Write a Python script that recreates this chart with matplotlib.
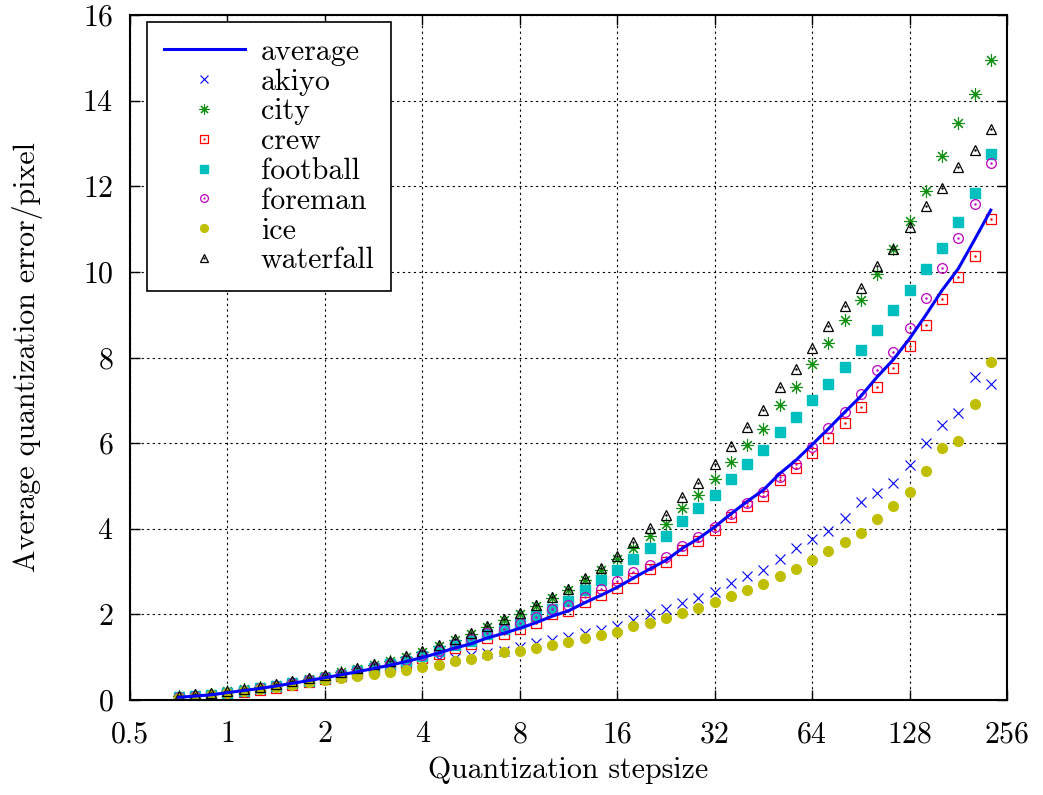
import numpy as np
import matplotlib
matplotlib.use('Agg')
import matplotlib.pyplot as plt
from matplotlib.legend_handler import HandlerTuple

plt.rcParams['font.family'] = 'serif'
plt.rcParams['font.serif'] = ['cmr10']
plt.rcParams['mathtext.fontset'] = 'cm'
plt.rcParams['axes.formatter.use_mathtext'] = True
plt.rcParams['font.size'] = 21.5

# quantization step sizes (QP 1..51)
stepsize = [0.707, 0.794, 0.891, 1.0, 1.122, 1.26,
            1.414, 1.587, 1.782, 2.0, 2.245, 2.52,
            2.828, 3.175, 3.564, 4.0, 4.49, 5.04,
            5.657, 6.35, 7.127, 8.0, 8.98, 10.079,
            11.314, 12.699, 14.254, 16.0, 17.959, 20.159,
            22.627, 25.398, 28.509, 32.0, 35.919, 40.317,
            45.255, 50.797, 57.018, 64.0, 71.838, 80.635,
            90.51, 101.594, 114.035, 128.0, 143.675, 161.27,
            181.019, 203.187, 228.07]

akiyo = [0.05, 0.08, 0.11, 0.16, 0.21, 0.26, 0.31, 0.37, 0.43, 0.50, 0.56, 0.62, 0.69, 0.76, 0.83, 0.90,
         0.95, 0.97, 1.04, 1.09, 1.14, 1.23, 1.32, 1.39, 1.47, 1.56, 1.64, 1.74,
         1.88, 2.00, 2.12, 2.26, 2.38, 2.53, 2.74, 2.90, 3.04, 3.29, 3.54,
         3.75, 3.95, 4.26, 4.62, 4.83, 5.08, 5.49, 6.00, 6.42, 6.71, 7.55, 7.39]
city = [0.09, 0.12, 0.15, 0.20, 0.25, 0.30, 0.36, 0.43, 0.50, 0.57, 0.65, 0.73, 0.82, 0.91, 1.01, 1.12,
        1.27, 1.41, 1.54, 1.71, 1.87, 2.02, 2.19, 2.38, 2.56, 2.80, 3.04, 3.29,
        3.56, 3.83, 4.10, 4.48, 4.78, 5.17, 5.56, 5.95, 6.33, 6.89, 7.32,
        7.84, 8.33, 8.88, 9.35, 9.96, 10.53, 11.19, 11.88, 12.71, 13.47, 14.15, 14.95]
crew = [0.03, 0.05, 0.08, 0.13, 0.18, 0.23, 0.29, 0.35, 0.41, 0.48, 0.55, 0.62, 0.70, 0.78, 0.87, 0.97,
        1.07, 1.22, 1.30, 1.46, 1.55, 1.67, 1.81, 2.00, 2.08, 2.29, 2.45, 2.62,
        2.84, 3.05, 3.23, 3.50, 3.72, 3.97, 4.27, 4.53, 4.76, 5.14, 5.41,
        5.76, 6.11, 6.48, 6.85, 7.31, 7.76, 8.26, 8.75, 9.36, 9.88, 10.37, 11.23]
football = [0.06, 0.09, 0.12, 0.17, 0.22, 0.27, 0.33, 0.39, 0.45, 0.52, 0.59, 0.67, 0.75, 0.83, 0.92, 1.02,
            1.14, 1.28, 1.38, 1.54, 1.67, 1.81, 1.96, 2.12, 2.31, 2.57, 2.80, 3.03,
            3.29, 3.56, 3.83, 4.17, 4.48, 4.80, 5.17, 5.52, 5.85, 6.27, 6.62,
            7.00, 7.39, 7.79, 8.17, 8.65, 9.10, 9.57, 10.06, 10.57, 11.17, 11.84, 12.75]
foreman = [0.06, 0.09, 0.12, 0.17, 0.22, 0.27, 0.33, 0.40, 0.46, 0.53, 0.60, 0.68, 0.76, 0.84, 0.93, 1.04,
           1.14, 1.30, 1.42, 1.57, 1.67, 1.81, 1.95, 2.12, 2.21, 2.41, 2.59, 2.77,
           2.98, 3.15, 3.33, 3.60, 3.81, 4.03, 4.34, 4.61, 4.87, 5.22, 5.52,
           5.91, 6.35, 6.73, 7.14, 7.70, 8.13, 8.68, 9.38, 10.10, 10.80, 11.58, 12.54]
ice = [0.05, 0.08, 0.11, 0.16, 0.20, 0.25, 0.30, 0.35, 0.41, 0.46, 0.51, 0.56, 0.60, 0.65, 0.71, 0.76,
       0.82, 0.90, 0.95, 1.05, 1.11, 1.15, 1.21, 1.29, 1.36, 1.44, 1.52, 1.60,
       1.72, 1.81, 1.91, 2.04, 2.15, 2.28, 2.43, 2.57, 2.72, 2.89, 3.06,
       3.27, 3.48, 3.70, 3.91, 4.24, 4.53, 4.87, 5.34, 5.88, 6.06, 6.92, 7.90]
waterfall = [0.10, 0.13, 0.16, 0.21, 0.26, 0.31, 0.37, 0.44, 0.51, 0.58, 0.66, 0.74, 0.83, 0.92, 1.02, 1.14,
             1.29, 1.43, 1.56, 1.73, 1.89, 2.04, 2.21, 2.41, 2.59, 2.84, 3.09, 3.37,
             3.68, 4.01, 4.32, 4.74, 5.08, 5.52, 5.93, 6.38, 6.78, 7.32, 7.73,
             8.23, 8.74, 9.21, 9.63, 10.14, 10.53, 11.04, 11.53, 11.96, 12.44, 12.85, 13.35]

sequences = [akiyo, city, crew, football, foreman, ice, waterfall]
average = np.mean(np.array(sequences), axis=0)

fig, ax = plt.subplots(figsize=(10.43, 7.95), dpi=100)
fig.subplots_adjust(left=0.1246, right=0.9655, top=0.981, bottom=0.1195)

h_avg, = ax.plot(stepsize, average, color='#0000ff', lw=2.2, zorder=5)

ms = 7
h_akiyo, = ax.plot(stepsize, akiyo, ls='none', marker='x', color='#0000ff', ms=ms, mew=0.8)
h_city, = ax.plot(stepsize, city, ls='none', marker=(8, 2, 0), color='#109010', ms=ms + 2, mew=0.8)
h_crew, = ax.plot(stepsize, crew, ls='none', marker='s', mfc='none', mec='#ff0000', ms=ms, mew=0.9)
d_crew, = ax.plot(stepsize, crew, ls='none', marker='.', color='#ff0000', ms=1.5)
h_foot, = ax.plot(stepsize, football, ls='none', marker='s', color='#00bfbf', ms=ms)
h_fore, = ax.plot(stepsize, foreman, ls='none', marker='o', mfc='none', mec='#c000c0', ms=ms, mew=0.9)
d_fore, = ax.plot(stepsize, foreman, ls='none', marker='.', color='#c000c0', ms=1.5)
h_ice, = ax.plot(stepsize, ice, ls='none', marker='o', color='#bfbf00', ms=ms)
h_wf, = ax.plot(stepsize, waterfall, ls='none', marker='^', mfc='none', mec='black', ms=ms, mew=0.9)
d_wf, = ax.plot(stepsize, waterfall, ls='none', marker='.', color='black', ms=1.5)

ax.set_xscale('log', base=2)
ax.set_xlim(0.5, 256)
ax.set_ylim(0, 16)
xt = [0.5, 1, 2, 4, 8, 16, 32, 64, 128, 256]
ax.set_xticks(xt)
ax.set_xticklabels(['0.5', '1', '2', '4', '8', '16', '32', '64', '128', '256'])
ax.xaxis.set_minor_locator(matplotlib.ticker.NullLocator())
ax.set_yticks(range(0, 17, 2))

ax.grid(True, color='black', ls=(0, (2, 3)), lw=0.8)
ax.tick_params(direction='in', top=True, right=True, length=7, width=1)
ax.tick_params(axis='x', pad=15)
ax.tick_params(axis='y', pad=12)
for s in ax.spines.values():
    s.set_linewidth(1.5)

ax.set_xlabel('Quantization stepsize', labelpad=6)
ax.set_ylabel('Average quantization error/pixel', labelpad=28)

handles = [h_avg, h_akiyo, h_city, (h_crew, d_crew), h_foot, (h_fore, d_fore), h_ice, (h_wf, d_wf)]
labels = ['average', 'akiyo', 'city', 'crew', 'football', 'foreman', 'ice', 'waterfall']
leg = ax.legend(handles, labels, loc='upper left', bbox_to_anchor=(0.02, 0.99),
                handler_map={tuple: HandlerTuple(ndivide=1)},
                fancybox=False, edgecolor='black', framealpha=1,
                handlelength=2.7, handletextpad=0.55, labelspacing=0.08,
                borderpad=0.55, borderaxespad=0, markerscale=0.8)
leg.get_frame().set_linewidth(1.2)

fig.savefig('out.png', dpi=100)
